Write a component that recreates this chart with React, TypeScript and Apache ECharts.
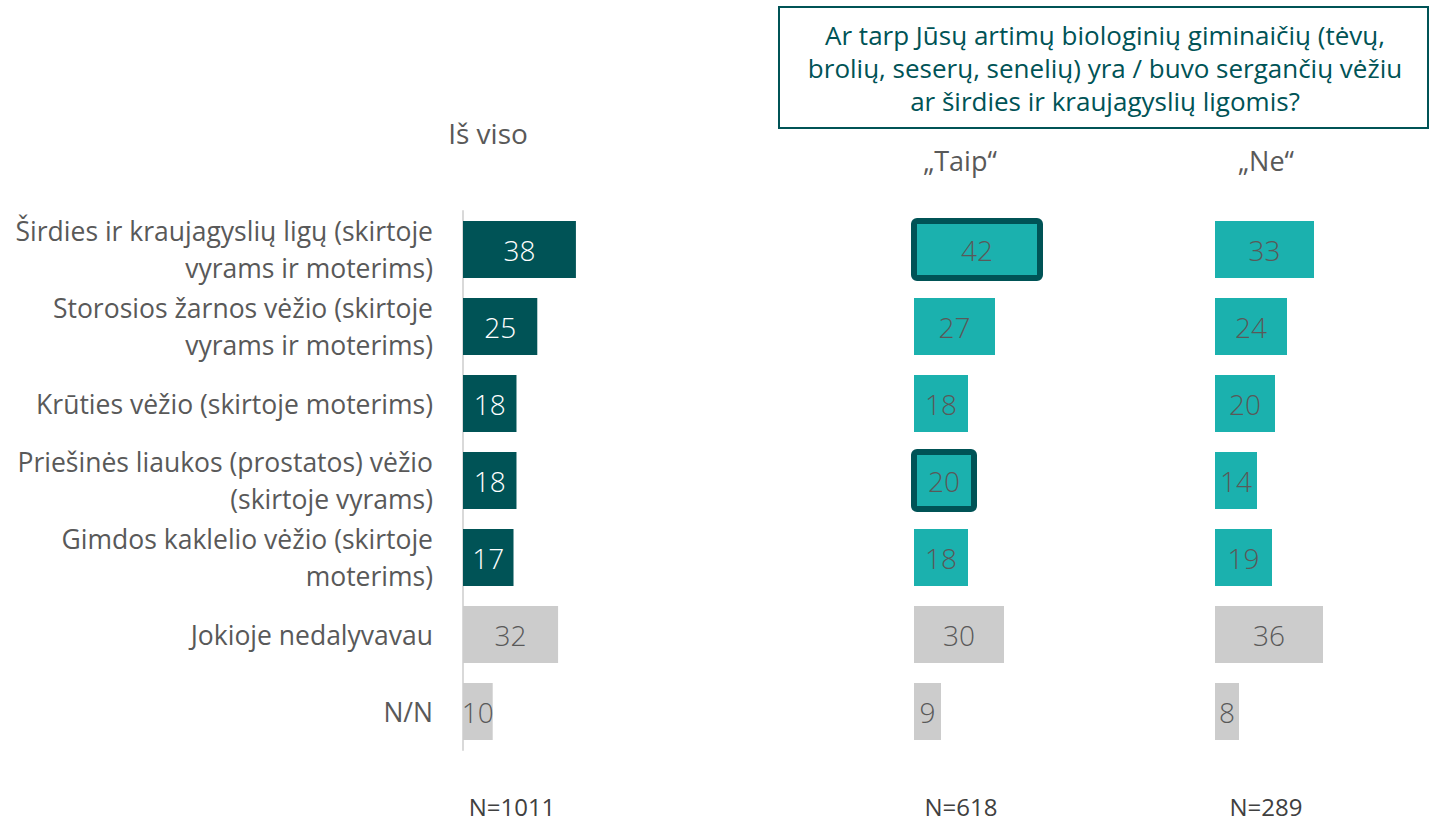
import React, { useEffect, useRef } from "react";
import * as echarts from "echarts";

const categories = [
  "Širdies ir kraujagyslių ligų (skirtoje\nvyrams ir moterims)",
  "Storosios žarnos vėžio (skirtoje\nvyrams ir moterims)",
  "Krūties vėžio (skirtoje moterims)",
  "Priešinės liaukos (prostatos) vėžio\n(skirtoje vyrams)",
  "Gimdos kaklelio vėžio (skirtoje\nmoterims)",
  "Jokioje nedalyvavau",
  "N/N",
];
const totalValues = [38, 25, 18, 18, 17, 32, 10];
const taipValues = [42, 27, 18, 20, 18, 30, 9];
const neValues = [33, 24, 20, 14, 19, 36, 8];
const highlightedTaip = [0, 3];
const columnHeaders = ["Iš viso", "„Taip“", "„Ne“"];
const nLabels = ["N=1011", "N=618", "N=289"];
const questionLines = [
  "Ar tarp Jūsų artimų biologinių giminaičių (tėvų,",
  "brolių, seserų, senelių) yra / buvo sergančių vėžiu",
  "ar širdies ir kraujagyslių ligomis?",
];

const DARK = "#005356";
const TEAL = "#1bb1ae";
const GRAY = "#cccccc";
const TEXT = "#595959";
const FONT = "'Open Sans', 'Noto Sans', sans-serif";
const BAR_RATIO = 0.74;

export default function App() {
  const ref = useRef<HTMLDivElement>(null);
  useEffect(() => {
    if (!ref.current) return;
    const chart = echarts.init(ref.current, null, { renderer: "svg" });

    const makeData = (vals: number[], kind: "total" | "taip" | "ne") =>
      vals.map((v, i) => {
        const isGray = i >= 5;
        const color = isGray ? GRAY : kind === "total" ? DARK : TEAL;
        const labelColor = !isGray && kind === "total" ? "#ffffff" : TEXT;
        return {
          value: v,
          itemStyle: { color },
          label: { color: labelColor },
        };
      });

    const gridTop = 211;
    const gridHeight = 539;
    const grids = [
      { left: 463, width: 208 },
      { left: 914, width: 210 },
      { left: 1215, width: 210 },
    ].map((g) => ({ ...g, top: gridTop, height: gridHeight }));

    const xAxes = grids.map((_, i) => ({
      type: "value" as const,
      gridIndex: i,
      min: 0,
      max: 70,
      show: false,
    }));
    const yAxes = grids.map((_, i) => ({
      type: "category" as const,
      gridIndex: i,
      data: categories,
      inverse: true,
      axisTick: { show: false },
      axisLine: {
        show: i === 0,
        lineStyle: { color: "#d9d9d9", width: 2 },
      },
      axisLabel: {
        show: i === 0,
        margin: 30,
        fontSize: 26.5,
        lineHeight: 37,
        color: TEXT,
        fontFamily: FONT,
        align: "right" as const,
      },
      splitLine: { show: false },
    }));

    const seriesBase = {
      type: "bar" as const,
      barCategoryGap: "26%",
      label: {
        show: true,
        position: "inside" as const,
        fontSize: 28,
        fontFamily: FONT,
        fontWeight: 300 as any,
      },
    };

    const highlightData = highlightedTaip.map((i) => [taipValues[i], i]);

    const texts: any[] = [];
    const headerX = [488, 960, 1266];
    const headerY = [133, 160, 160];
    columnHeaders.forEach((h, i) => {
      texts.push({
        type: "text",
        x: headerX[i],
        y: headerY[i],
        style: {
          text: h,
          fill: TEXT,
          font: `${i === 0 ? 28 : 27}px ${FONT}`,
          textAlign: "center",
          textVerticalAlign: "middle",
        },
      });
    });
    const nX = [512, 961, 1266];
    nLabels.forEach((t, i) => {
      texts.push({
        type: "text",
        x: nX[i],
        y: 806,
        style: {
          text: t,
          fill: "#404040",
          font: `24px ${FONT}`,
          textAlign: "center",
          textVerticalAlign: "middle",
        },
      });
    });
    texts.push({
      type: "rect",
      shape: { x: 779, y: 7, width: 649, height: 121 },
      style: { fill: "#ffffff", stroke: DARK, lineWidth: 2 },
    });
    questionLines.forEach((line, i) => {
      texts.push({
        type: "text",
        x: 1105,
        y: 35 + i * 33,
        style: {
          text: line,
          fill: DARK,
          font: `26px ${FONT}`,
          textAlign: "center",
          textVerticalAlign: "middle",
        },
      });
    });

    chart.setOption({
      animation: false,
      backgroundColor: "#ffffff",
      textStyle: { fontFamily: FONT },
      grid: grids,
      xAxis: xAxes,
      yAxis: yAxes,
      series: [
        { ...seriesBase, xAxisIndex: 0, yAxisIndex: 0, data: makeData(totalValues, "total") },
        { ...seriesBase, xAxisIndex: 1, yAxisIndex: 1, data: makeData(taipValues, "taip") },
        { ...seriesBase, xAxisIndex: 2, yAxisIndex: 2, data: makeData(neValues, "ne") },
        {
          type: "custom",
          xAxisIndex: 1,
          yAxisIndex: 1,
          z: 5,
          data: highlightData,
          renderItem: (params: any, api: any) => {
            const v = api.value(0);
            const idx = api.value(1);
            const start = api.coord([0, idx]);
            const end = api.coord([v, idx]);
            const h = api.size([0, 1])[1] * BAR_RATIO;
            return {
              type: "rect",
              shape: {
                x: start[0],
                y: start[1] - h / 2,
                width: end[0] - start[0],
                height: h,
                r: 3,
              },
              style: { fill: "none", stroke: DARK, lineWidth: 6 },
            };
          },
        },
      ],
      graphic: texts,
    });
    return () => chart.dispose();
  }, []);

  return (
    <div
      ref={ref}
      style={{ position: "absolute", left: 0, top: 0, width: 1429, height: 821 }}
    />
  );
}
